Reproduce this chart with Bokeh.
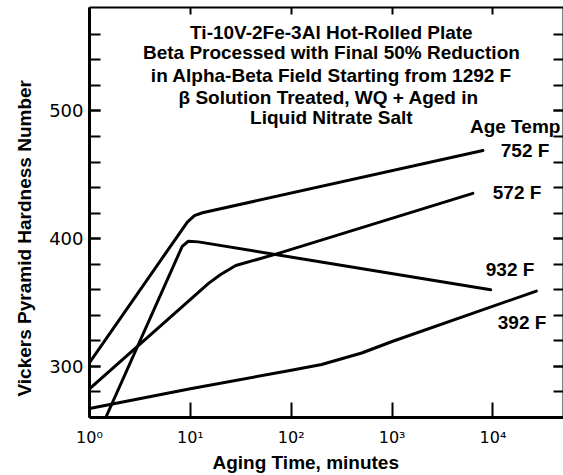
import json
from bokeh.plotting import figure
from bokeh.models import (FixedTicker, LogAxis, LinearAxis, Range1d, Title,
                          CustomJSTickFormatter)
from bokeh.embed import file_html
from bokeh.resources import INLINE
from bokeh.core.properties import value

# ---- data ----
t_752 = [1, 9.33, 10.96, 13.18, 7943]
hv_752 = [303, 413, 418, 420.3, 469]

t_572 = [1, 15.14, 19.95, 28.18, 69.18, 6310]
hv_572 = [282.5, 365, 372, 379, 387.7, 435.5]

t_932 = [1.45, 8.3, 9.55, 12.0, 9480]
hv_932 = [260, 394, 398, 397.5, 360]

t_392 = [1, 10, 100, 200, 500, 1000, 26900]
hv_392 = [267, 282.5, 297, 301.5, 310.5, 319.5, 359]

x_ticks = [1, 10, 100, 1000, 10000]
x_tick_labels = ["10\u2070", "10\u00b9", "10\u00b2", "10\u00b3", "10\u2074"]
y_ticks = [300, 400, 500]
y_minor = list(range(280, 580, 20))

title_lines = [
    "Ti-10V-2Fe-3Al Hot-Rolled Plate",
    "Beta Processed with Final 50% Reduction",
    "in Alpha-Beta Field Starting from 1292 F",
    "\u03b2 Solution Treated, WQ + Aged in",
    "Liquid Nitrate Salt",
]
curve_labels = ["Age Temp", "752 F", "572 F", "932 F", "392 F"]

# ---- figure ----
p = figure(frame_width=474, frame_height=410, x_axis_type="log",
           x_range=Range1d(1, 50000), y_range=Range1d(260, 581),
           output_backend="svg", toolbar_location=None,
           min_border_left=88, min_border_right=1,
           min_border_top=7, min_border_bottom=58)
p.outline_line_color = None
p.grid.visible = False
p.background_fill_color = "white"
p.border_fill_color = "white"

FONT = "Liberation Sans"

label_map = {str(k): v for k, v in zip(x_ticks, x_tick_labels)}
xax = p.xaxis[0]
xax.ticker = FixedTicker(ticks=x_ticks)
xax.formatter = CustomJSTickFormatter(
    code="const m = %s; const k = String(Math.round(tick)); return (k in m) ? m[k] : '';" % json.dumps(label_map))
xax.axis_line_width = 3
xax.major_tick_in = 15
xax.major_tick_out = 0
xax.major_tick_line_width = 2
xax.minor_tick_in = 0
xax.minor_tick_out = 0
xax.major_label_standoff = 10
xax.major_label_text_font = "DejaVu Sans"
xax.major_label_text_font_size = "16px"
xax.major_label_text_color = "black"

yax = p.yaxis[0]
yax.ticker = FixedTicker(ticks=y_ticks, minor_ticks=y_minor)
yax.axis_line_width = 3
yax.major_tick_in = 11
yax.major_tick_out = 0
yax.minor_tick_in = 11
yax.minor_tick_out = 0
yax.major_tick_line_width = 2
yax.minor_tick_line_width = 2
yax.minor_tick_line_color = "black"
yax.major_label_standoff = 6
yax.major_label_text_font = "DejaVu Sans"
yax.major_label_text_font_size = "18px"
yax.major_label_text_color = "black"

rax = LinearAxis(ticker=FixedTicker(ticks=y_ticks, minor_ticks=y_minor),
                 formatter=CustomJSTickFormatter(code="return '';"))
rax.axis_line_width = 2
rax.major_tick_in = 10
rax.major_tick_out = 0
rax.minor_tick_in = 10
rax.minor_tick_out = 0
rax.major_tick_line_width = 2
rax.minor_tick_line_width = 2
rax.minor_tick_line_color = "black"
rax.major_label_text_font_size = "1px"
rax.major_label_standoff = 0
rax.axis_label_standoff = 0
p.add_layout(rax, "right")

tax = LogAxis(ticker=FixedTicker(ticks=x_ticks), formatter=CustomJSTickFormatter(code="return '';"))
tax.axis_line_width = 2
tax.major_tick_in = 7
tax.major_tick_out = 0
tax.minor_tick_in = 0
tax.minor_tick_out = 0
tax.major_tick_line_width = 2
tax.major_label_text_font_size = "1px"
tax.major_label_standoff = 0
tax.axis_label_standoff = 0
p.add_layout(tax, "above")

# ---- curves ----
for t, hv in [(t_752, hv_752), (t_572, hv_572), (t_932, hv_932), (t_392, hv_392)]:
    p.line(t, hv, line_width=3, line_color="black", line_join="round", line_cap="round")

# ---- title block ----
title_x = [250, 250, 250, 235, 250]
title_y = [561.3, 545.7, 528.1, 510.7, 495.0]
p.text(x=title_x, y=title_y, text=title_lines,
       text_font=value(FONT), text_font_style="bold", text_font_size="19px",
       text_align="center", text_baseline="alphabetic", text_color="black")

# ---- curve labels ----
lab_x = [46560, 36220, 30170, 25700, 33830]
lab_y = [487.7, 469.4, 436.3, 376.0, 334.2]
p.text(x=lab_x, y=lab_y, text=curve_labels,
       text_font=value(FONT), text_font_style="bold", text_font_size="19px",
       text_align="right", text_baseline="alphabetic", text_color="black")

# ---- axis titles ----
xt = Title(text="Aging Time, minutes", align="left", offset=123, standoff=1,
           text_font=FONT, text_font_style="bold", text_font_size="19px", text_color="black")
p.add_layout(xt, "below")
yt = Title(text="Vickers Pyramid Hardness Number", align="left", offset=21, standoff=23,
           text_font=FONT, text_font_style="bold", text_font_size="19px", text_color="black")
p.add_layout(yt, "left")

open("out.html", "w").write(file_html(p, INLINE))
